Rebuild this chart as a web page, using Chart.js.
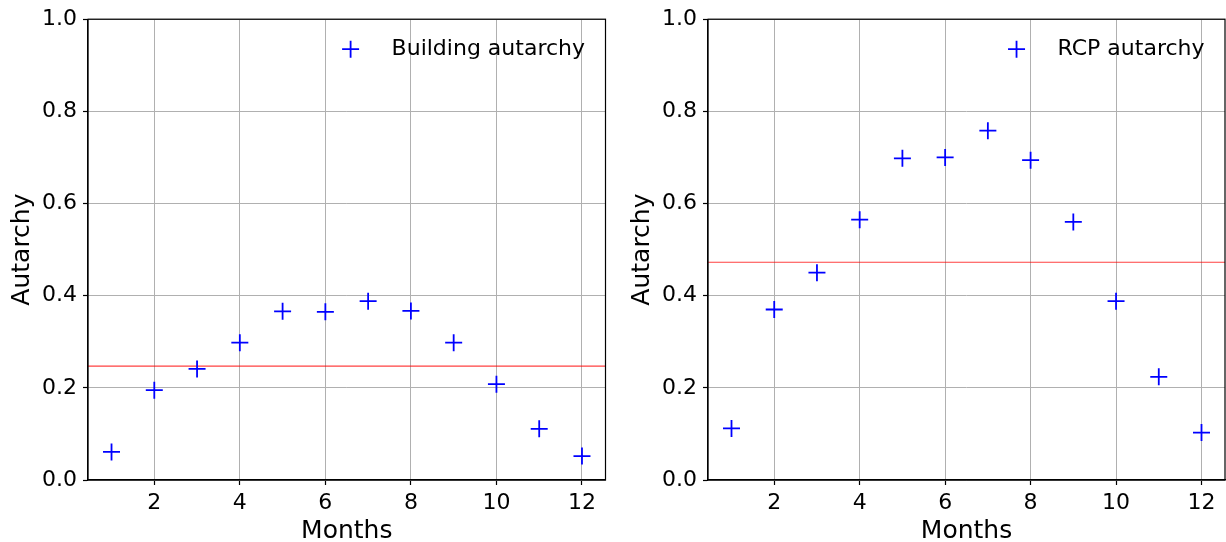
<!DOCTYPE html>
<html>
<head>
<meta charset="utf-8">
<title>Monthly autarchy</title>
<script src="https://cdn.jsdelivr.net/npm/chart.js@4.4.1/dist/chart.umd.min.js"></script>
<style>
  html, body { margin: 0; padding: 0; background: #ffffff; }
  #wrap { position: relative; width: 1226px; height: 542px; overflow: hidden; background: #ffffff; }
  #wrap canvas { position: absolute; top: 0; }
</style>
</head>
<body>
<div id="wrap">
  <canvas id="buildingChart" width="613" height="542" style="left:0px"></canvas>
  <canvas id="rcpChart" width="606" height="542" style="left:620px"></canvas>
</div>
<script>
// Monthly autarchy values (month 1 = January)
const months = [1, 2, 3, 4, 5, 6, 7, 8, 9, 10, 11, 12];
const buildingAutarchy = [0.061, 0.195, 0.241, 0.298, 0.366, 0.365, 0.388, 0.367, 0.298, 0.208, 0.111, 0.052];
const rcpAutarchy      = [0.112, 0.370, 0.450, 0.565, 0.698, 0.700, 0.758, 0.694, 0.560, 0.388, 0.224, 0.103];

// Annual autarchy levels shown as horizontal reference lines
const buildingAnnualAutarchy = 0.247;
const rcpAnnualAutarchy = 0.4725;

// Axis ticks
const monthTicks = [2, 4, 6, 8, 10, 12];
const autarchyTicks = [0.0, 0.2, 0.4, 0.6, 0.8, 1.0];
const monthRange = [0.45, 12.55];
const autarchyRange = [0, 1];

const FONT_FAMILY = "'DejaVu Sans', 'Liberation Sans', sans-serif";
const FONT_SIZE = 22;
Chart.defaults.font.family = FONT_FAMILY;
Chart.defaults.font.size = FONT_SIZE;
Chart.defaults.color = '#000000';

// Closed frame around the plot area (top and right sides included)
const frame = {
  id: 'frame',
  afterDatasetsDraw(chart) {
    const { ctx, chartArea: a } = chart;
    ctx.save();
    ctx.strokeStyle = '#000000';
    ctx.lineWidth = 1.2;
    ctx.strokeRect(a.left, a.top, a.right - a.left, a.bottom - a.top);
    ctx.restore();
  }
};

// Legend placed inside the upper right corner of the plot area
const insideLegend = {
  id: 'insideLegend',
  afterDatasetsDraw(chart) {
    const ds = chart.data.datasets[0];
    const { ctx, chartArea: a } = chart;
    ctx.save();
    ctx.font = FONT_SIZE + 'px ' + FONT_FAMILY;
    ctx.fillStyle = '#000000';
    ctx.textAlign = 'left';
    ctx.textBaseline = 'middle';
    const w = ctx.measureText(ds.label).width;
    const textLeft = a.right - 20.5 - w;
    const y = a.top + 30;
    ctx.fillText(ds.label, textLeft, y);
    const mx = textLeft - 41;
    const r = ds.pointRadius;
    ctx.strokeStyle = ds.borderColor;
    ctx.lineWidth = ds.borderWidth;
    ctx.beginPath();
    ctx.moveTo(mx - r, y); ctx.lineTo(mx + r, y);
    ctx.moveTo(mx, y - r); ctx.lineTo(mx, y + r);
    ctx.stroke();
    ctx.restore();
  }
};

function makeChart(canvasId, label, values, annual, rightPad) {
  const points = months.map((m, i) => ({ x: m, y: values[i] }));
  const annualLine = [{ x: monthRange[0], y: annual }, { x: monthRange[1], y: annual }];
  return new Chart(document.getElementById(canvasId), {
    type: 'scatter',
    data: {
      datasets: [
        {
          label: label,
          data: points,
          pointStyle: 'cross',
          pointRadius: 8.5,
          pointHoverRadius: 8.5,
          borderColor: '#0000ff',
          backgroundColor: '#0000ff',
          borderWidth: 1.8,
          order: 1
        },
        {
          type: 'line',
          label: 'annual',
          data: annualLine,
          borderColor: 'rgba(255, 0, 0, 0.75)',
          borderWidth: 1.2,
          pointRadius: 0,
          fill: false,
          order: 2
        }
      ]
    },
    options: {
      responsive: false,
      animation: false,
      devicePixelRatio: 1,
      layout: { autoPadding: false, padding: { top: 18, right: rightPad, bottom: 0, left: 0 } },
      plugins: {
        legend: { display: false },
        tooltip: { enabled: false }
      },
      scales: {
        x: {
          type: 'linear',
          min: monthRange[0],
          max: monthRange[1],
          afterBuildTicks: s => { s.ticks = monthTicks.map(v => ({ value: v })); },
          afterFit: s => { s.height = 62; s.paddingLeft = 0; s.paddingRight = 0; },
          ticks: { padding: 5, callback: v => String(v), maxRotation: 0 },
          grid: { color: '#b0b0b0', lineWidth: 1, tickColor: '#000000', tickLength: 5, tickWidth: 1.2 },
          border: { color: '#000000', width: 1.2 },
          title: { display: true, text: 'Months', font: { size: 25, lineHeight: 0.85 }, padding: { top: 0, bottom: 0 } }
        },
        y: {
          type: 'linear',
          min: autarchyRange[0],
          max: autarchyRange[1],
          afterBuildTicks: s => { s.ticks = autarchyTicks.map(v => ({ value: v })); },
          afterFit: s => { s.width = 88; },
          ticks: { padding: 6, callback: v => v.toFixed(1) },
          grid: { color: '#b0b0b0', lineWidth: 1, tickColor: '#000000', tickLength: 5, tickWidth: 1.2 },
          border: { color: '#000000', width: 1.2 },
          title: { display: true, text: 'Autarchy', font: { size: 25 }, padding: { top: 7, bottom: 0 } }
        }
      }
    },
    plugins: [frame, insideLegend]
  });
}

makeChart('buildingChart', 'Building autarchy', buildingAutarchy, buildingAnnualAutarchy, 7.5);
makeChart('rcpChart', 'RCP autarchy', rcpAutarchy, rcpAnnualAutarchy, 1);
</script>
</body>
</html>
